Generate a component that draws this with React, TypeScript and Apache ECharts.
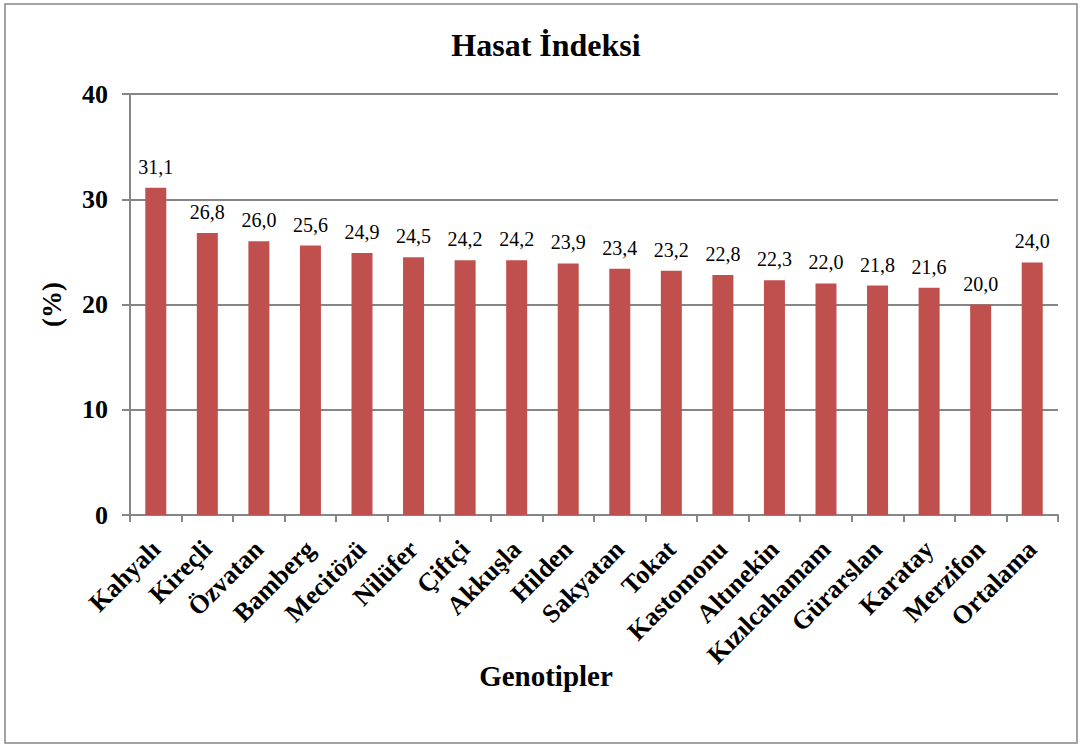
import React, { useEffect, useRef } from "react";
import * as echarts from "echarts";

const categories = [
  "Kahyalı", "Kireçli", "Özvatan", "Bamberg", "Mecitözü", "Nilüfer", "Çiftçi", "Akkuşla",
  "Hilden", "Sakyatan", "Tokat", "Kastomonu", "Altınekin", "Kızılcahamam", "Gürarslan",
  "Karatay", "Merzifon", "Ortalama",
];
const values = [31.1, 26.8, 26.0, 25.6, 24.9, 24.5, 24.2, 24.2, 23.9, 23.4, 23.2, 22.8, 22.3, 22.0, 21.8, 21.6, 20.0, 24.0];
const titleText = "Hasat İndeksi";
const xName = "Genotipler";
const yName = "(%)";

const FONT = "Liberation Serif";

export default function App() {
  const ref = useRef<HTMLDivElement>(null);
  useEffect(() => {
    if (!ref.current) return;
    const chart = echarts.init(ref.current, null, { renderer: "svg" });
    chart.setOption({
      animation: false,
      backgroundColor: "#ffffff",
      textStyle: { fontFamily: FONT },
      grid: { left: 130, right: 25, top: 94, bottom: 230, containLabel: false },
      graphic: [
        {
          type: "rect",
          shape: { x: 5, y: 4, width: 1072, height: 739 },
          style: { fill: "none", stroke: "#878787", lineWidth: 1.5 },
          silent: true,
        },
        {
          type: "text",
          x: 546,
          y: 45,
          style: {
            text: titleText,
            fontFamily: FONT,
            fontWeight: "bold",
            fontSize: 32,
            fill: "#000",
            textAlign: "center",
            textVerticalAlign: "middle",
          },
        },
        {
          type: "text",
          x: 546,
          y: 676,
          style: {
            text: xName,
            fontFamily: FONT,
            fontWeight: "bold",
            fontSize: 29,
            fill: "#000",
            textAlign: "center",
            textVerticalAlign: "middle",
          },
        },
      ],
      xAxis: {
        type: "category",
        data: categories,
        boundaryGap: true,
        axisLine: { show: true, lineStyle: { color: "#868686", width: 2 } },
        axisTick: { show: true, length: 7, lineStyle: { color: "#868686", width: 2 } },
        axisLabel: {
          rotate: 45,
          interval: 0,
          margin: 30,
          fontFamily: FONT,
          fontWeight: "bold",
          fontSize: 26,
          color: "#000",
        },
      },
      yAxis: {
        type: "value",
        min: 0,
        max: 40,
        interval: 10,
        name: yName,
        nameLocation: "middle",
        nameGap: 65,
        nameRotate: 90,
        nameTextStyle: { fontFamily: FONT, fontWeight: "bold", fontSize: 27, color: "#000" },
        axisLine: { show: true, lineStyle: { color: "#868686", width: 2 } },
        axisTick: { show: true, length: 8, lineStyle: { color: "#868686", width: 2 } },
        splitLine: { show: true, lineStyle: { color: "#868686", width: 2 } },
        axisLabel: {
          margin: 22,
          fontFamily: FONT,
          fontWeight: "bold",
          fontSize: 26,
          color: "#000",
        },
      },
      series: [
        {
          type: "bar",
          data: values,
          barWidth: 21,
          itemStyle: { color: "#C0504D" },
          label: {
            show: true,
            position: "top",
            distance: 11,
            fontFamily: FONT,
            fontSize: 20,
            color: "#000",
            formatter: (p: any) => Number(p.value).toFixed(1).replace(".", ","),
          },
        },
      ],
    });
    return () => chart.dispose();
  }, []);
  return (
    <div
      ref={ref}
      style={{ position: "fixed", left: 0, top: 0, width: 1083, height: 745, background: "#fff" }}
    />
  );
}
